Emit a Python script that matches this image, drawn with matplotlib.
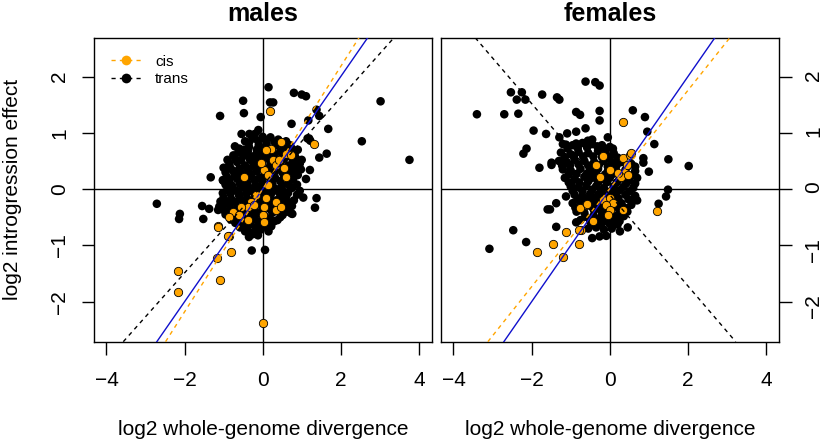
import numpy as np
import matplotlib
matplotlib.use("Agg")
import matplotlib.pyplot as plt
from matplotlib.lines import Line2D

plt.rcParams['font.family'] = ['Liberation Sans', 'DejaVu Sans']
plt.rcParams['lines.scale_dashes'] = False

ORANGE = '#FFA500'
BLUE = '#1010CC'

# ---- males ----
males_trans = [
    (-2.71, -0.26), (-2.12, -0.44), (-2.14, -0.53), (-1.52, -0.53), (-1.55, -0.30), (-1.37, -0.35),
    (-1.33, 0.21), (-1.01, 0.15), (-1.09, 1.30), (-0.50, 1.57), (-0.48, 1.35), (-0.71, 0.76),
    (-0.54, 0.98), (-0.34, 0.98), (-0.20, 0.98), (-0.11, 1.05), (-0.05, 1.28), (0.15, 1.81),
    (0.19, 1.54), (0.27, 1.54), (0.80, 1.71), (1.00, 1.68), (1.11, 1.65), (0.74, 1.16),
    (1.38, 1.41), (1.45, 1.30), (1.17, 1.22), (1.68, 1.07), (1.19, 0.90), (1.22, 0.86),
    (1.45, 0.56), (1.64, 0.63), (1.21, 0.34), (1.11, 0.18), (1.04, -0.15), (1.38, -0.16),
    (1.34, -0.33), (0.76, -0.44), (0.61, -0.28), (3.02, 1.56), (2.54, 0.85), (3.76, 0.52),
    (-0.28, -1.09), (0.06, -1.08), (-0.26, -0.78), (-1.14, -0.37), (-1.01, -0.25), (-0.88, -0.40),
    (-0.67, -0.60), (-0.41, -0.72), (-0.15, -0.72), (-0.07, -0.60), (-0.48, 0.70), (-0.45, 0.60),
    (-0.15, 0.64), (-1.02, 0.16), (-1.11, -0.31), (0.73, -0.43), (0.51, -0.46), (1.15, 0.90),
    (-0.25, 0.90), (0.00, 0.93), (0.20, 0.92), (0.40, 0.88), (0.60, 0.85), (-0.45, 0.85),
    (-0.60, 0.72), (-0.35, 0.75), (-0.10, 0.78), (0.10, 0.80), (0.35, 0.78), (0.55, 0.74), (0.75, 0.72), (0.90, 0.70),
    (-0.75, 0.60), (-0.50, 0.62), (-0.25, 0.58), (-0.05, 0.60), (0.15, 0.62), (0.30, 0.60), (0.70, 0.58), (0.85, 0.55),
    (-0.85, 0.45), (-0.65, 0.48), (-0.45, 0.42), (-0.20, 0.45), (0.00, 0.50), (0.20, 0.44), (0.45, 0.46),
    (0.65, 0.42), (0.85, 0.40), (0.95, 0.45),
    (-0.95, 0.30), (-0.75, 0.32), (-0.55, 0.28), (-0.35, 0.30), (-0.15, 0.32), (0.05, 0.28), (0.30, 0.30),
    (0.50, 0.30), (0.70, 0.27), (0.90, 0.25),
    (-0.85, 0.15), (-0.65, 0.18), (-0.40, 0.12), (-0.20, 0.15), (0.00, 0.12), (0.20, 0.18), (0.45, 0.14), (0.65, 0.10),
    (-0.90, 0.00), (-0.70, -0.02), (-0.50, 0.03), (-0.30, -0.03), (-0.10, 0.02), (0.10, -0.04), (0.35, 0.00),
    (0.55, -0.05), (0.75, 0.02), (0.95, -0.03),
    (-1.00, -0.15), (-0.80, -0.18), (-0.60, -0.12), (-0.40, -0.16), (-0.20, -0.10), (0.00, -0.17), (0.20, -0.12),
    (0.40, -0.18), (0.60, -0.14), (0.80, -0.20),
    (-1.05, -0.30), (-0.85, -0.28), (-0.65, -0.32), (-0.45, -0.26), (-0.25, -0.33), (-0.05, -0.28), (0.15, -0.30),
    (0.35, -0.27), (0.55, -0.34), (0.75, -0.30),
    (-0.95, -0.45), (-0.75, -0.48), (-0.55, -0.42), (-0.35, -0.46), (-0.15, -0.44), (0.05, -0.48), (0.25, -0.42), (0.45, -0.50),
    (-0.70, -0.60), (-0.50, -0.62), (-0.30, -0.58), (-0.10, -0.62), (0.10, -0.60), (0.30, -0.57),
    (-0.45, -0.75), (-0.25, -0.80), (-0.05, -0.72), (0.15, -0.75),
    # denser fill of the central blob
    (-0.35, 0.83), (-0.12, 0.86), (0.08, 0.87), (0.30, 0.84), (0.50, 0.80), (0.70, 0.78),
    (-0.62, 0.66), (-0.38, 0.67), (-0.15, 0.70), (0.05, 0.70), (0.25, 0.68), (0.45, 0.66), (0.65, 0.66), (0.82, 0.63),
    (-0.90, 0.52), (-0.70, 0.54), (-0.55, 0.52), (-0.32, 0.52), (-0.10, 0.53), (0.10, 0.55), (0.35, 0.52),
    (0.55, 0.54), (0.78, 0.50), (1.00, 0.52),
    (-1.00, 0.38), (-0.82, 0.37), (-0.60, 0.36), (-0.40, 0.37), (-0.25, 0.40), (-0.05, 0.38), (0.15, 0.37),
    (0.38, 0.38), (0.58, 0.36), (0.78, 0.34), (0.98, 0.35),
    (-0.92, 0.22), (-0.72, 0.24), (-0.50, 0.20), (-0.28, 0.22), (-0.08, 0.20), (0.12, 0.23), (0.32, 0.20),
    (0.55, 0.22), (0.78, 0.18),
    (-0.95, 0.08), (-0.78, 0.06), (-0.58, 0.09), (-0.38, 0.06), (-0.18, 0.07), (0.05, 0.05), (0.25, 0.08),
    (0.50, 0.06), (0.70, 0.05), (0.88, 0.08),
    (-1.02, -0.07), (-0.82, -0.08), (-0.62, -0.05), (-0.42, -0.07), (-0.22, -0.05), (0.02, -0.08), (0.25, -0.05),
    (0.45, -0.09), (0.65, -0.07), (0.88, -0.10),
    (-1.08, -0.22), (-0.90, -0.22), (-0.70, -0.23), (-0.52, -0.20), (-0.32, -0.22), (-0.12, -0.20), (0.08, -0.22),
    (0.28, -0.21), (0.48, -0.23), (0.68, -0.24),
    (-1.00, -0.37), (-0.80, -0.37), (-0.60, -0.38), (-0.40, -0.36), (-0.20, -0.38), (0.00, -0.37), (0.20, -0.36),
    (0.40, -0.38), (0.62, -0.40),
    (-0.82, -0.54), (-0.62, -0.52), (-0.42, -0.53), (-0.22, -0.52), (-0.02, -0.54), (0.18, -0.52), (0.38, -0.55),
    (-0.58, -0.68), (-0.38, -0.67), (-0.18, -0.68), (0.02, -0.66), (0.22, -0.66),
    (-0.35, -0.85), (-0.12, -0.82),
]
males_cis = [
    (0.19, 1.38), (1.32, 0.81), (-1.14, -0.66), (-0.86, -0.84), (-0.82, -1.12), (-1.18, -1.23),
    (-1.08, -1.61), (-2.16, -1.46), (-2.16, -1.83), (0.00, -2.37),
    (0.47, 0.83), (0.21, 0.72), (0.09, 0.69), (0.60, 0.63), (0.26, 0.52), (0.34, 0.43), (0.04, 0.34),
    (0.13, 0.25), (-0.04, 0.46), (-0.49, 0.22), (0.55, 0.37), (0.60, 0.22), (0.73, 0.60), (0.43, 0.52),
    (0.13, 0.07), (0.09, -0.15), (-0.17, -0.11), (-0.30, -0.22), (-0.38, -0.31), (-0.55, -0.31),
    (-0.77, -0.40), (-0.85, -0.49), (-0.60, -0.46), (-0.21, -0.28), (0.34, -0.22), (0.04, -0.31),
    (0.00, -0.46), (0.04, -0.59), (0.34, -0.37), (0.47, -0.31), (-0.38, -0.55), (-1.15, -0.67),
    (-0.90, -0.83),
]

# ---- females ----
females_trans = [
    (-3.40, 1.33), (-3.08, -1.06), (-2.70, 1.33), (-2.34, 1.34), (-2.53, 1.72), (-2.25, 1.72),
    (-2.38, 1.59), (-2.16, 1.59), (-1.73, 1.68), (-1.35, 1.63), (-1.29, 1.59), (-0.62, 1.91),
    (-0.37, 1.90), (-0.26, 1.84), (-0.86, 1.37), (-0.76, 1.32), (-0.26, 1.39), (-0.26, 1.22),
    (-1.95, 1.04), (-1.63, 0.98), (-1.29, 0.92), (-1.09, 0.99), (-0.86, 1.02), (-0.62, 1.08),
    (-2.13, 0.72), (-2.21, 0.63), (-1.80, 0.38), (-1.49, 0.47), (-1.49, 0.43), (-1.25, 0.49),
    (-1.12, 0.79), (-0.86, 0.81), (-0.56, 0.86), (-0.45, 0.88), (-0.05, 0.92), (0.59, 1.40),
    (0.90, 1.28), (0.96, 1.02), (1.14, 0.80), (0.86, 0.55), (0.86, 0.47), (1.00, 0.31),
    (1.50, 0.53), (2.02, 0.41), (1.49, -0.01), (1.44, -0.13), (1.25, -0.26), (-2.47, -0.73),
    (-2.14, -0.94), (-1.37, -0.67), (-1.59, -0.36), (-1.53, -0.36), (-1.37, -0.25), (-1.12, -0.13),
    (-0.98, 0.07), (-0.45, -0.87), (-0.26, -0.84), (-0.09, -0.83), (0.26, -0.75), (0.46, -0.68),
    (0.25, -0.57), (-0.86, -0.59),
    (-1.20, 0.80), (-0.95, 0.78), (-0.70, 0.82), (-0.45, 0.80), (-0.20, 0.78), (0.00, 0.75),
    (-1.25, 0.65), (-1.00, 0.62), (-0.80, 0.66), (-0.55, 0.64), (-0.30, 0.68), (-0.10, 0.62), (0.10, 0.64),
    (-1.30, 0.50), (-1.10, 0.48), (-0.90, 0.52), (-0.65, 0.50), (-0.40, 0.48), (-0.15, 0.50), (0.05, 0.47),
    (0.30, 0.48), (0.55, 0.45),
    (-1.20, 0.35), (-1.00, 0.33), (-0.75, 0.36), (-0.50, 0.34), (-0.30, 0.36), (-0.05, 0.32), (0.15, 0.36),
    (0.40, 0.34), (0.65, 0.32),
    (-1.15, 0.20), (-0.90, 0.18), (-0.65, 0.22), (-0.45, 0.20), (-0.20, 0.18), (0.00, 0.20), (0.25, 0.18),
    (0.50, 0.15), (0.70, 0.20),
    (-1.00, 0.05), (-0.80, 0.03), (-0.60, 0.07), (-0.35, 0.05), (-0.15, 0.02), (0.10, 0.05), (0.35, 0.04), (0.60, 0.02),
    (-0.90, -0.10), (-0.70, -0.12), (-0.50, -0.08), (-0.30, -0.10), (-0.10, -0.12), (0.15, -0.08), (0.40, -0.10), (0.65, -0.12),
    (-0.95, -0.25), (-0.75, -0.22), (-0.55, -0.27), (-0.35, -0.24), (-0.15, -0.26), (0.05, -0.22), (0.30, -0.25),
    (0.55, -0.28), (0.70, -0.20),
    (-0.85, -0.40), (-0.65, -0.42), (-0.40, -0.38), (-0.20, -0.40), (0.00, -0.42), (0.25, -0.38), (0.45, -0.40),
    (-0.75, -0.55), (-0.50, -0.58), (-0.30, -0.55), (-0.10, -0.57), (0.10, -0.55),
    (-0.55, -0.70), (-0.35, -0.68), (-0.15, -0.72), (0.05, -0.70),
    # denser fill of the central blob
    (-1.08, 0.72), (-0.82, 0.73), (-0.58, 0.74), (-0.32, 0.76), (-0.10, 0.70), (0.08, 0.72),
    (-1.15, 0.57), (-0.92, 0.58), (-0.68, 0.58), (-0.42, 0.58), (-0.20, 0.57), (0.00, 0.56), (0.20, 0.56),
    (-1.22, 0.42), (-1.02, 0.42), (-0.80, 0.44), (-0.55, 0.42), (-0.28, 0.43), (-0.05, 0.40), (0.18, 0.43),
    (0.45, 0.40), (0.65, 0.40),
    (-1.05, 0.26), (-0.85, 0.27), (-0.58, 0.28), (-0.35, 0.27), (-0.12, 0.26), (0.08, 0.27), (0.32, 0.26),
    (0.58, 0.25),
    (-1.05, 0.12), (-0.78, 0.12), (-0.55, 0.14), (-0.30, 0.12), (-0.08, 0.12), (0.18, 0.12), (0.42, 0.10),
    (0.65, 0.10),
    (-0.95, -0.03), (-0.70, -0.03), (-0.45, -0.01), (-0.22, -0.03), (0.02, -0.04), (0.25, -0.02), (0.50, -0.04),
    (-0.82, -0.18), (-0.60, -0.17), (-0.42, -0.17), (-0.22, -0.18), (0.00, -0.16), (0.22, -0.16), (0.48, -0.18),
    (0.62, -0.20),
    (-0.88, -0.33), (-0.68, -0.33), (-0.45, -0.32), (-0.25, -0.33), (-0.05, -0.33), (0.15, -0.31), (0.38, -0.33),
    (-0.62, -0.49), (-0.42, -0.48), (-0.22, -0.48), (0.00, -0.49), (0.18, -0.47), (0.36, -0.48),
    (-0.45, -0.62), (-0.22, -0.62), (0.00, -0.62), (0.20, -0.63),
]
females_cis = [
    (0.33, 1.20), (-0.17, 0.58), (0.34, 0.55), (0.51, 0.61), (0.55, 0.64), (0.43, 0.43), (0.38, 0.28),
    (0.30, 0.22), (0.21, 0.28), (0.00, 0.34), (-0.26, 0.22), (0.47, 0.25), (-0.35, 0.43),
    (-0.17, -0.19), (0.00, -0.16), (0.09, -0.25), (-0.09, -0.28), (0.00, -0.37), (-0.04, -0.46),
    (0.34, -0.37), (-0.60, -0.28), (-0.77, -0.34), (-0.43, -0.57), (-0.73, -0.72), (-1.12, -0.77),
    (-1.46, -0.98), (-1.87, -1.11), (-0.78, -0.98), (-1.19, -1.21), (-0.78, -0.72), (1.20, -0.38),
    (-0.59, -0.27),
]

titles = ['males', 'females']
# fitted lines: (intercept, slope)
cis_fit = [(0.0, 1.09), (0.01, 0.872)]
trans_fit = [(0.07, 0.779), (-0.10, -0.81)]

fig = plt.figure(figsize=(8.25, 4.43), dpi=100)
ax1 = fig.add_axes([0.1139, 0.2287, 0.4094, 0.6862])
ax2 = fig.add_axes([0.5345, 0.2287, 0.4097, 0.6862])

panels = [(ax1, males_trans, males_cis), (ax2, females_trans, females_cis)]
for i, (ax, trans, cis) in enumerate(panels):
    ax.set_xlim(-4.32, 4.33)
    ax.set_ylim(-2.71, 2.69)
    ax.axhline(0, color='black', lw=1.0, zorder=1)
    ax.axvline(0, color='black', lw=1.0, zorder=1)
    t = np.array(trans)
    c = np.array(cis)
    ax.scatter(t[:, 0], t[:, 1], s=38, color='black', edgecolors='none', zorder=2)
    ax.scatter(c[:, 0], c[:, 1], s=36, color=ORANGE, edgecolors='black', linewidths=0.6, zorder=3)
    ax.axline((0, 0), slope=1, color=BLUE, lw=1.0, zorder=4)
    b, m = cis_fit[i]
    ax.axline((0, b), slope=m, color=ORANGE, lw=1.0, dashes=(3, 3), zorder=4)
    b, m = trans_fit[i]
    ax.axline((0, b), slope=m, color='black', lw=1.0, dashes=(3, 3), zorder=4)

    ax.set_xticks([-4, -2, 0, 2, 4])
    ax.set_yticks([-2, -1, 0, 1, 2])
    ax.tick_params(length=9, width=1.0, labelsize=15)
    ax.tick_params(axis='x', pad=12)
    ax.tick_params(axis='y', pad=9, labelrotation=90)
    for lbl in ax.get_yticklabels():
        lbl.set_va('center')
    for sp in ax.spines.values():
        sp.set_linewidth(1.0)
    ax.set_title(titles[i], fontsize=18, fontweight='bold', pad=12)
    ax.set_xlabel('log2 whole-genome divergence', fontsize=15, labelpad=22)

ax2.yaxis.tick_right()
ax2.tick_params(axis='y', labelrotation=90)
ax1.set_ylabel('log2 introgression effect', fontsize=15, labelpad=20)

handles = [
    Line2D([], [], color=ORANGE, dashes=(3, 3), lw=1.0, marker='o', markersize=7, markeredgewidth=0),
    Line2D([], [], color='black', dashes=(3, 3), lw=1.0, marker='o', markersize=7, markeredgewidth=0),
]
ax1.legend(handles, ['cis', 'trans'], loc='upper left', frameon=False, fontsize=11,
           handlelength=2.0, borderaxespad=0.7, labelspacing=0.25, handletextpad=0.9)

fig.savefig('out.png', dpi=100)
